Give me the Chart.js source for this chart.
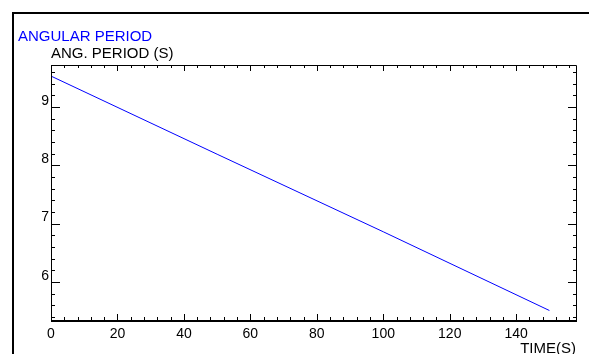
<!DOCTYPE html>
<html>
<head>
<meta charset="utf-8">
<script src="https://cdn.jsdelivr.net/npm/chart.js@4.4.1/dist/chart.umd.min.js"></script>
<style>
  html, body { margin: 0; padding: 0; background: #ffffff; overflow: hidden; }
  #wrap { position: relative; width: 589px; height: 354px; }
</style>
</head>
<body>
<div id="wrap"><canvas id="c" width="589" height="354"></canvas></div>
<script>
// ---- data ----
const timeValues   = [0, 50, 100, 150];
const periodValues = [9.53, 8.19, 6.86, 5.51];
const xTickValues  = [0, 20, 40, 60, 80, 100, 120, 140];
const yTickValues  = [6, 7, 8, 9];
const titleText    = 'ANGULAR PERIOD';
const yAxisText    = 'ANG. PERIOD (S)';
const xAxisText    = 'TIME(S)';

const FONT = "'Liberation Sans', Arial, Helvetica, sans-serif";

const framePlugin = {
  id: 'framePlugin',
  afterDraw(chart) {
    const ctx = chart.ctx;
    const a = chart.chartArea;
    const xs = chart.scales.x, ys = chart.scales.y;
    ctx.save();
    ctx.strokeStyle = '#000';
    // outer frame
    ctx.lineWidth = 2;
    ctx.beginPath();
    ctx.moveTo(13, chart.height + 2);
    ctx.lineTo(13, 13);
    ctx.lineTo(chart.width + 2, 13);
    ctx.stroke();
    // plot box
    ctx.lineWidth = 1;
    ctx.beginPath();
    ctx.moveTo(a.left + 0.5, a.bottom);
    ctx.lineTo(a.left + 0.5, a.top + 0.5);
    ctx.lineTo(a.right + 0.5, a.top + 0.5);
    ctx.lineTo(a.right + 0.5, a.bottom);
    ctx.stroke();
    ctx.lineWidth = 2;
    ctx.beginPath();
    ctx.moveTo(a.left, a.bottom);
    ctx.lineTo(a.right + 1, a.bottom);
    ctx.stroke();
    // x ticks (bottom and top), minor every 4
    ctx.lineWidth = 1;
    ctx.beginPath();
    for (let v = 0; v <= xs.max + 1e-9; v += 4) {
      const px = Math.round(xs.getPixelForValue(v)) + 0.5;
      const major = Math.abs(v % 20) < 1e-9;
      ctx.moveTo(px, a.bottom);
      ctx.lineTo(px, a.bottom - (major ? 7 : 4));
      ctx.moveTo(px, a.top);
      ctx.lineTo(px, a.top + (major ? 6 : 3));
    }
    // y ticks (left and right), minor every 0.2
    for (let k = Math.ceil(ys.min * 5); k <= Math.floor(ys.max * 5); k++) {
      const v = k / 5;
      const py = Math.round(ys.getPixelForValue(v)) + 0.5;
      const major = k % 5 === 0;
      ctx.moveTo(a.left, py);
      ctx.lineTo(a.left + (major ? 9 : 4), py);
      ctx.moveTo(a.right + 1, py);
      ctx.lineTo(a.right + 1 - (major ? 9 : 4), py);
    }
    ctx.stroke();
    // texts
    ctx.textBaseline = 'alphabetic';
    ctx.textAlign = 'left';
    ctx.font = '15px ' + FONT;
    ctx.fillStyle = '#0000ff';
    ctx.fillText(titleText, 18, 41);
    ctx.fillStyle = '#000000';
    ctx.fillText(yAxisText, 51, 58);
    ctx.restore();
  }
};

new Chart(document.getElementById('c'), {
  type: 'line',
  data: {
    datasets: [{
      data: timeValues.map((t, i) => ({ x: t, y: periodValues[i] })),
      borderColor: '#0000ff',
      borderWidth: 1,
      pointRadius: 0,
      tension: 0,
      fill: false
    }]
  },
  options: {
    responsive: false,
    animation: false,
    devicePixelRatio: 1,
    layout: { padding: { top: 65, right: 13, bottom: 0, left: 0 } },
    plugins: { legend: { display: false }, tooltip: { enabled: false }, title: { display: false } },
    scales: {
      x: {
        type: 'linear',
        position: 'bottom',
        min: 0,
        max: 158,
        grid: { display: false, drawTicks: false },
        border: { display: false },
        afterBuildTicks(s) { s.ticks = xTickValues.map(v => ({ value: v })); },
        afterFit(s) { s.height = 33; },
        ticks: {
          color: '#000',
          padding: 5,
          maxRotation: 0,
          autoSkip: false,
          font: { family: FONT, size: 14 }
        },
        title: {
          display: true,
          text: xAxisText,
          align: 'end',
          color: '#000',
          padding: 0,
          font: { family: FONT, size: 15, lineHeight: 0.7 }
        }
      },
      y: {
        type: 'linear',
        position: 'left',
        min: 5.33,
        max: 9.72,
        grid: { display: false, drawTicks: false },
        border: { display: false },
        afterBuildTicks(s) { s.ticks = yTickValues.map(v => ({ value: v })); },
        afterFit(s) { s.width = 51; },
        ticks: {
          color: '#000',
          padding: 2,
          labelOffset: -6,
          autoSkip: false,
          font: { family: FONT, size: 14 }
        }
      }
    }
  },
  plugins: [framePlugin]
});
</script>
</body>
</html>
